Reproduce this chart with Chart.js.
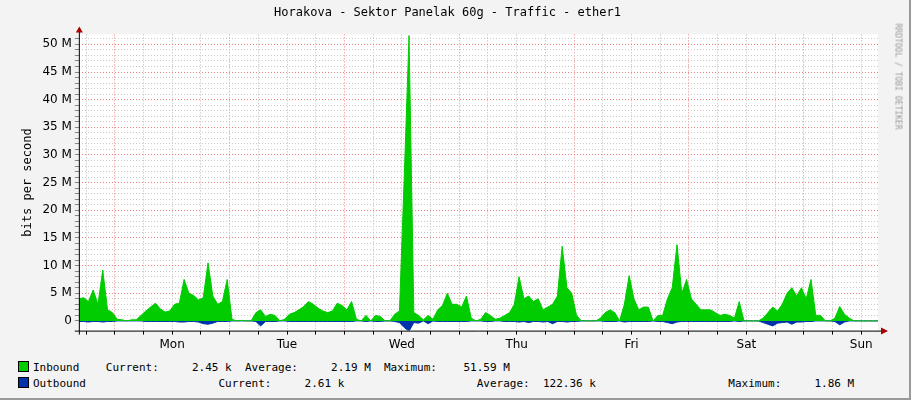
<!DOCTYPE html>
<html>
<head>
<meta charset="utf-8">
<script src="https://cdn.jsdelivr.net/npm/chart.js@4"></script>
<style>
  body { margin: 0; background: #f3f3f3; font-family: "DejaVu Sans Mono", monospace; font-size: 11px; color: #000; }
  #wrap { position: relative; width: 911px; height: 400px; border-right: 2px solid #999; border-bottom: 2px solid #999; box-sizing: border-box; overflow: hidden; }
  #box { position: absolute; left: 0; top: 0; width: 909px; height: 355px; }
  .leg { position: absolute; left: 18px; white-space: pre; }
  .sw { display: inline-block; width: 9px; height: 9px; border: 1px solid #000; vertical-align: -1px; margin-right: 4px; }
  #side { position: absolute; right: -42px; top: 72px; transform: rotate(90deg); font-size: 8px; color: #999; white-space: nowrap; }
</style>
</head>
<body>
<div id="wrap">
  <div id="box"><canvas id="c"></canvas></div>
  <div class="leg" style="top:361px"><span class="sw" style="background:#00cc00"></span>Inbound    Current:     2.45 k  Average:     2.19 M  Maximum:    51.59 M</div>
  <div class="leg" style="top:377px"><span class="sw" style="background:#0033aa"></span>Outbound                    Current:     2.61 k                    Average:  122.36 k                    Maximum:     1.86 M</div>
  <div id="side">RRDTOOL / TOBI OETIKER</div>
</div>
<script>
// hourly samples, hour 0 = Sunday ~16:30 (values in M bits/s)
const inbound = [
  4, 4.2, 3.5, 5.6, 3, 9.2, 2, 1.5, 0.3, 0.2, 0, 0.2, 0.2, 1, 1.8, 2.5, 3.2, 2.2, 1.6, 1.8,
  3, 3.2, 7.5, 5, 4.6, 3.8, 4.2, 10.5, 4.5, 3, 3.5, 7.5, 0.3, 0, 0.1, 0, 0, 1.5, 2, 0.8,
  1.2, 1, 0, 0.3, 1.2, 1.5, 2, 2.6, 3.5, 3, 2.3, 1.8, 1.5, 1.8, 3.2, 2.8, 2, 3.5, 0.3, 0,
  1, 0, 1, 0.8, 0, 0, 1.2, 1.8, 26, 51.6, 1.5, 1, 0.2, 1, 0.3, 2, 2.8, 5, 3, 3,
  2.5, 4.5, 0.5, 0, 0.3, 1.5, 1, 0.3, 0.5, 1, 1.5, 3, 8, 4, 4.5, 3.5, 4, 2, 2.5, 3,
  4.5, 13.5, 6, 5, 1, 0, 0, 0, 0, 0.5, 1.5, 2, 1.5, 0, 3, 8.2, 4, 2, 2.5, 2.5,
  0, 1, 1, 4, 6, 13.8, 5, 7.5, 4, 3, 2, 2, 2, 1.5, 1, 1.2, 1, 0.5, 3.5, 0,
  0, 0, 0, 0.5, 1.5, 2.5, 1.8, 3, 5, 6, 4.5, 6, 4, 7.5, 1, 1, 0, 0, 0.5, 2.6,
  1.2, 0.5, 0, 0, 0, 0, 0, 0
];
const outbound = [
  -0.1, -0.1, -0.2, -0.1, -0.1, -0.2, -0.1, -0.1, 0, 0, 0, 0, 0, 0, -0.1, -0.1, -0.1, -0.1, -0.1, -0.1,
  -0.1, -0.2, -0.2, -0.1, -0.1, -0.2, -0.5, -0.6, -0.4, -0.1, -0.1, -0.1, 0, 0, 0, 0, 0, -0.1, -0.9, -0.1,
  -0.1, -0.1, 0, 0, -0.1, -0.1, -0.1, -0.1, -0.1, -0.1, -0.1, -0.1, -0.1, -0.1, -0.1, -0.1, -0.1, -0.1, 0, 0,
  -0.1, 0, -0.1, -0.1, 0, 0, -0.1, -0.3, -1.2, -1.86, -0.3, -0.4, 0, -0.5, 0, -0.1, -0.1, -0.1, -0.1, -0.1,
  -0.1, -0.1, 0, 0, 0, -0.1, -0.1, 0, 0, -0.1, -0.1, -0.1, -0.2, -0.1, -0.3, -0.1, -0.1, -0.2, -0.1, -0.5,
  -0.1, -0.1, -0.2, -0.1, -0.1, 0, 0, 0, 0, 0, -0.1, -0.1, -0.1, 0, -0.2, -0.1, -0.1, -0.1, -0.1, -0.1,
  0, -0.1, -0.1, -0.3, -0.5, -0.2, -0.1, -0.1, -0.1, -0.1, -0.1, -0.1, -0.1, -0.1, -0.1, -0.1, -0.1, 0, -0.1, 0,
  0, 0, 0, -0.3, -0.6, -0.9, -0.4, -0.3, -0.2, -0.6, -0.2, -0.2, -0.1, -0.1, 0, 0, 0, 0, -0.1, -0.7,
  -0.2, 0, 0, 0, 0, 0, 0, 0
];
const dayNames = ['Mon', 'Tue', 'Wed', 'Thu', 'Fri', 'Sat', 'Sun'];
const firstMidnight = 7.5; // hours from left edge to Monday 00:00
const yLabels = [0, 5, 10, 15, 20, 25, 30, 35, 40, 45, 50];

const hours = inbound.map((v, i) => i);

const plotBg = {
  id: 'plotBg',
  beforeDraw(chart) {
    const a = chart.chartArea, ctx = chart.ctx;
    ctx.save();
    ctx.fillStyle = '#ffffff';
    ctx.fillRect(a.left, a.top, a.right - a.left, a.bottom - a.top);
    ctx.restore();
  },
  afterDraw(chart) {
    // axis lines with arrows
    const a = chart.chartArea, ctx = chart.ctx;
    ctx.save();
    ctx.strokeStyle = '#000'; ctx.fillStyle = '#a00'; ctx.lineWidth = 1;
    ctx.beginPath();
    ctx.moveTo(a.left - 4, a.bottom + 0.5); ctx.lineTo(a.right + 4, a.bottom + 0.5);
    ctx.moveTo(a.left + 0.5, a.bottom + 4); ctx.lineTo(a.left + 0.5, a.top - 4);
    ctx.stroke();
    ctx.beginPath();
    ctx.moveTo(a.right + 10, a.bottom + 0.5); ctx.lineTo(a.right + 3, a.bottom - 3); ctx.lineTo(a.right + 3, a.bottom + 4); ctx.fill();
    ctx.beginPath();
    ctx.moveTo(a.left + 0.5, a.top - 8); ctx.lineTo(a.left - 3, a.top - 2); ctx.lineTo(a.left + 4, a.top - 2); ctx.fill();
    ctx.restore();
  }
};

new Chart(document.getElementById('c'), {
  type: 'line',
  data: {
    labels: hours,
    datasets: [
      { label: 'Inbound', data: inbound, backgroundColor: '#00cc00', borderColor: '#00cc00', borderWidth: 1, fill: 'origin', pointRadius: 0, tension: 0 },
      { label: 'Outbound', data: outbound, backgroundColor: '#0033aa', borderColor: '#0033aa', borderWidth: 1, fill: 'origin', pointRadius: 0, tension: 0 }
    ]
  },
  options: {
    responsive: true,
    maintainAspectRatio: false,
    animation: false,
    layout: { padding: { left: 17, right: 31, top: 0, bottom: 0 } },
    plugins: {
      legend: { display: false },
      tooltip: { enabled: false },
      title: {
        display: true,
        text: 'Horakova - Sektor Panelak 60g - Traffic - ether1',
        color: '#000',
        font: { family: 'DejaVu Sans Mono', size: 12, weight: 'normal' },
        padding: { top: 6, bottom: 14 }
      }
    },
    scales: {
      x: {
        type: 'linear', min: 0, max: 167,
        border: { display: false, dash: [1, 2] },
        afterBuildTicks(axis) {
          const t = [];
          for (let h = firstMidnight - 6; h <= 167; h += 6) t.push({ value: h });
          axis.ticks = t;
        },
        grid: {
          color(c) { return ((c.tick.value - firstMidnight) % 24 === 0) ? '#f08080' : '#b8b8b8'; },
          lineWidth: 1,
          tickLength: 4,
          tickColor: '#000'
        },
        ticks: {
          autoSkip: false, maxRotation: 0, color: '#000',
          font: { family: 'DejaVu Sans', size: 12 },
          callback(v) {
            const d = (v - firstMidnight - 12) / 24;
            return (Number.isInteger(d) && d >= 0 && d < dayNames.length) ? dayNames[d] : '';
          }
        }
      },
      y: {
        min: -1.75, max: 51.8,
        border: { display: false, dash: [1, 2] },
        afterBuildTicks(axis) {
          const t = [{ value: 0 }];
          for (let v = 1; v <= 51; v++) t.push({ value: v });
          axis.ticks = t;
        },
        grid: {
          color(c) { return (c.tick.value % 5 === 0) ? '#f08080' : '#c8c8c8'; },
          tickLength: 4,
          tickColor: '#888'
        },
        ticks: {
          autoSkip: false, color: '#000',
          font: { family: 'DejaVu Sans', size: 12 },
          callback(v) { return yLabels.includes(v) ? (v === 0 ? '0' : v + ' M') : ''; }
        },
        title: { display: true, text: 'bits per second', color: '#000', font: { family: 'DejaVu Sans Mono', size: 12 }, padding: 4 }
      }
    }
  },
  plugins: [plotBg]
});
</script>
</body>
</html>
